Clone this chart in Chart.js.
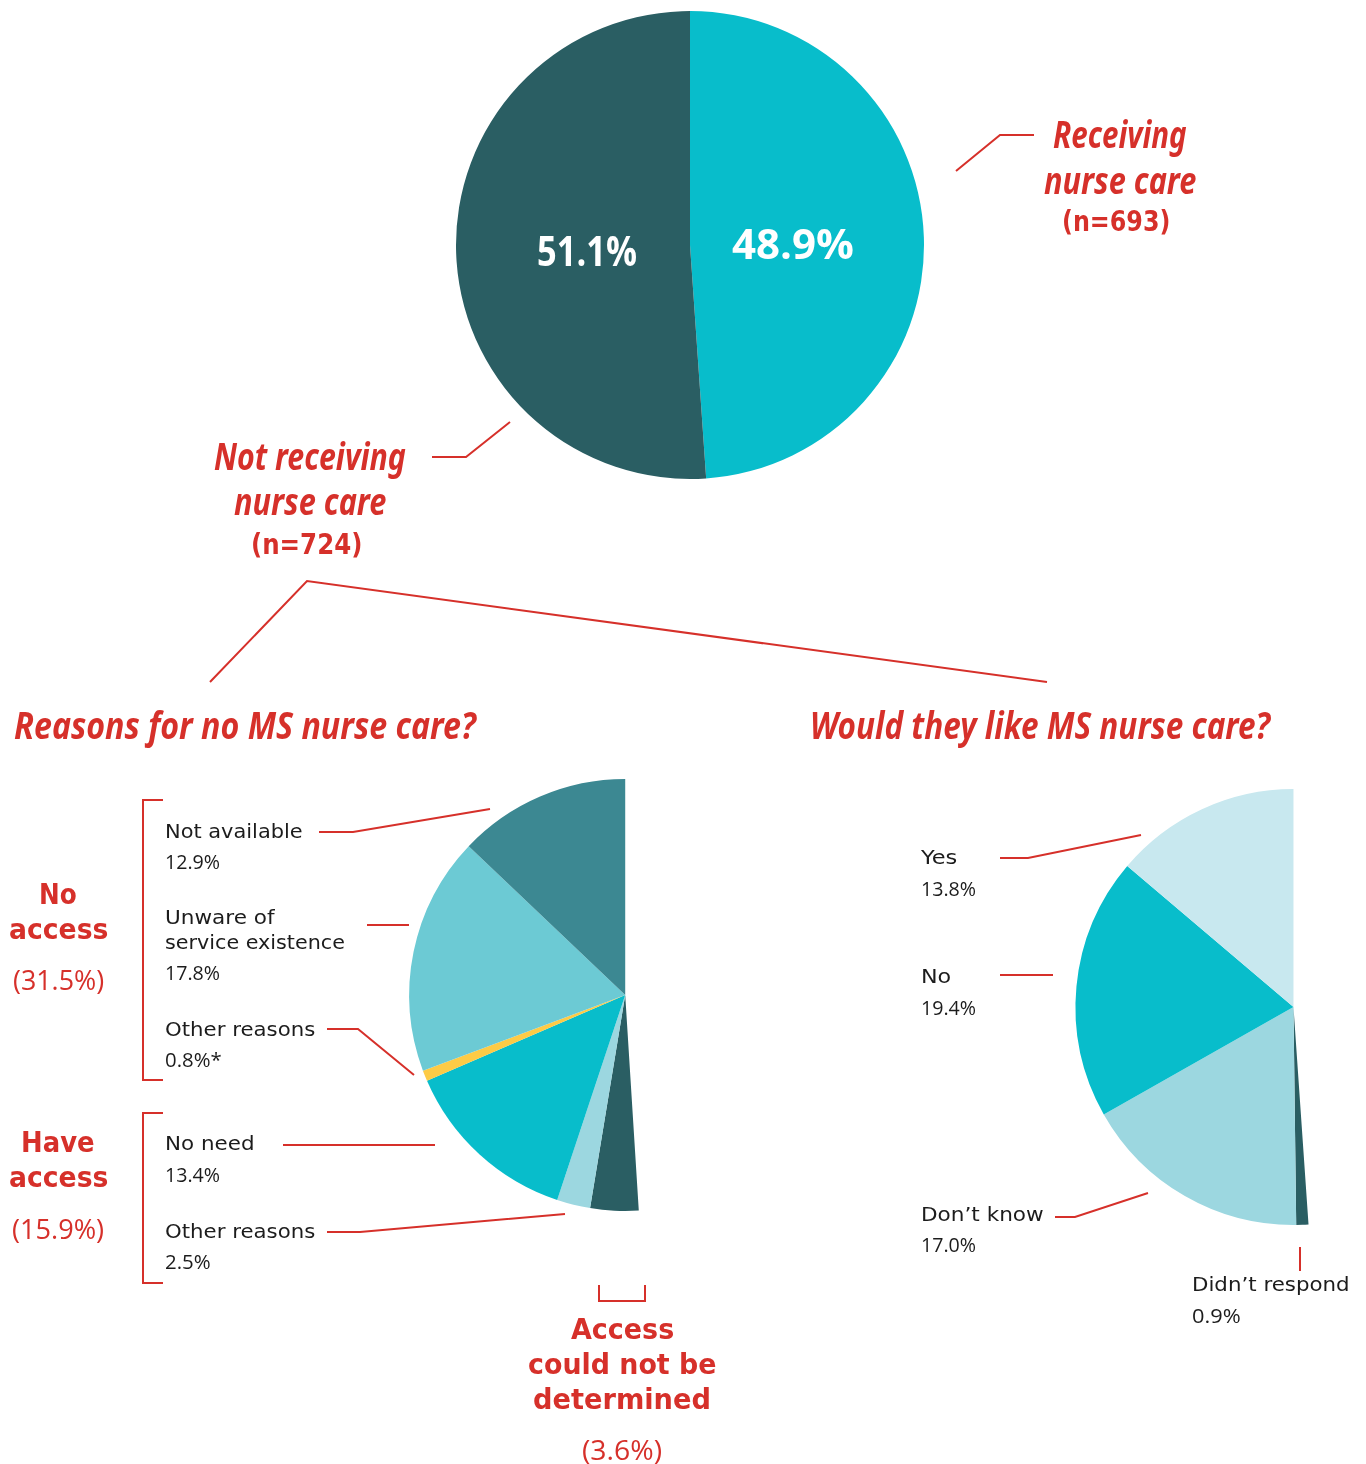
<!DOCTYPE html>
<html>
<head>
<meta charset="utf-8">
<script src="https://cdn.jsdelivr.net/npm/chart.js@4.4.1/dist/chart.umd.min.js"></script>
<style>
  html, body { margin: 0; padding: 0; background: #ffffff; }
  #stage { position: relative; width: 1366px; height: 1464px; overflow: hidden; }
  #stage canvas { position: absolute; }
  #leaders { position: absolute; left: 0; top: 0; }
  .t { position: absolute; white-space: nowrap; line-height: 1; color: #1c1c1c;
       font-family: 'DejaVu Sans', sans-serif; font-size: 20px; transform-origin: 0 50%; }
  .body { font-size: 20px; }
  .num { font-family: 'Open Sans', sans-serif; font-size: 20px; }
  .red { color: #d6302a; }
  .bold { font-weight: bold; }
  .script { font-family: 'Noto Sans', sans-serif; font-style: italic; font-weight: bold;
            color: #d6302a; font-size: 37px; }
  .big { font-size: 28px; }
  .share { font-family: 'Open Sans', sans-serif; font-size: 28px; font-weight: normal; color: #d6302a; }
</style>
</head>
<body>
<div id="stage">
  <canvas id="overview" width="480" height="480"></canvas>
  <canvas id="reasons" width="480" height="480"></canvas>
  <canvas id="wish" width="480" height="480"></canvas>
  <svg id="leaders" width="1366" height="1464"></svg>
</div>
<script>
// ---- data ----
const overviewLabels = ['Receiving nurse care', 'Not receiving nurse care'];
const overviewValues = [48.9, 51.1];
const overviewCounts = [693, 724];

const reasonLabels = ['Not available', 'Unware of service existence', 'Other reasons',
                      'No need', 'Other reasons', 'Access could not be determined'];
const reasonValues = [12.9, 17.8, 0.8, 13.4, 2.5, 3.6];

const wishLabels = ['Yes', 'No', 'Don’t know', 'Didn’t respond'];
const wishValues = [13.8, 19.4, 17.0, 0.9];

const accessGroups = ['No access', 'Have access', 'Access could not be determined'];
const accessShares = [31.5, 15.9, 3.6];

// ---- palette ----
const RED = '#d6302a';
const overviewColors = ['#08bdcb', '#2a5e63'];
const reasonColors = ['#3c8892', '#6ccad4', '#fdcb46', '#08bdcb', '#9cd7e0', '#2a5e63'];
const wishColors = ['#c8e8ef', '#08bdcb', '#9cd7e0', '#2a5e63'];

const stage = document.getElementById('stage');
const pct = v => v.toFixed(1) + '%';

// white percentage text inside each slice of the overview pie
const sliceValueLabels = {
  id: 'sliceValueLabels',
  afterDatasetsDraw(chart, args, opts) {
    if (!opts.show) return;
    const ctx = chart.ctx;
    const meta = chart.getDatasetMeta(0);
    const values = chart.data.datasets[0].data;
    ctx.save();
    ctx.fillStyle = '#ffffff';
    ctx.textAlign = 'center';
    ctx.textBaseline = 'middle';
    ctx.font = 'bold 41px "Open Sans", sans-serif';
    meta.data.forEach((arc, i) => {
      const p = arc.getProps(['x', 'y', 'startAngle', 'endAngle', 'outerRadius'], true);
      const mid = (p.startAngle + p.endAngle) / 2;
      const r = p.outerRadius * 0.44;
      const text = pct(values[i]);
      const w = ctx.measureText(text).width;
      const cx = p.x + Math.cos(mid) * r;
      const cy = p.y + Math.sin(mid) * r;
      ctx.save();
      ctx.translate(cx, cy);
      ctx.scale(opts.widths[i] / w, 1);
      ctx.fillText(text, 0, 6);
      ctx.restore();
    });
    ctx.restore();
  }
};

// Builds one pie. Half pies run counter-clockwise from 12 o'clock, so their
// data is reversed and the start is rotated back by the covered sweep.
function makePie(id, values, colors, radius, center, ccw, labelOpts) {
  const canvas = document.getElementById(id);
  const total = values.reduce((a, b) => a + b, 0);
  const data = ccw ? values.slice().reverse() : values.slice();
  const bg = ccw ? colors.slice().reverse() : colors.slice();
  const sweep = ccw ? total / 100 * 360 : 360;
  const chart = new Chart(canvas, {
    type: 'pie',
    data: { datasets: [{ data, backgroundColor: bg, borderWidth: 0, hoverOffset: 0 }] },
    options: {
      responsive: false,
      devicePixelRatio: 1,
      animation: false,
      radius: radius,
      rotation: ccw ? -sweep : 0,
      circumference: sweep,
      layout: { padding: 0 },
      events: [],
      plugins: {
        legend: { display: false },
        tooltip: { enabled: false },
        sliceValueLabels: labelOpts || { show: false }
      }
    },
    plugins: [sliceValueLabels]
  });
  // place the canvas so the pie's centre lands where the layout wants it
  const arc = chart.getDatasetMeta(0).data[0];
  canvas.style.left = (center[0] - arc.x) + 'px';
  canvas.style.top = (center[1] - arc.y) + 'px';
  return chart;
}

makePie('overview', overviewValues, overviewColors, 234, [689.5, 245], false,
        { show: true, widths: [122, 100] });
makePie('reasons', reasonValues, reasonColors, 216, [625, 995], true);
makePie('wish', wishValues, wishColors, 218, [1293.5, 1007], true);

// ---- leader lines and brackets ----
const leaders = [
  [[956, 171], [1000, 135], [1034, 135]],
  [[432, 457], [466, 457], [510, 422]],
  [[210, 682], [307, 581], [1047, 682]],
  [[319, 832], [353, 832], [490, 809]],
  [[367, 925], [409, 925]],
  [[327, 1029], [358, 1029], [414, 1075]],
  [[283, 1145], [435, 1145]],
  [[327, 1232], [360, 1232], [565, 1214]],
  [[599, 1285], [599, 1301], [645, 1301], [645, 1285]],
  [[1000, 858], [1028, 858], [1141, 835]],
  [[1000, 975], [1053, 975]],
  [[1055, 1217], [1075, 1217], [1148, 1193]],
  [[1300, 1247], [1300, 1271]],
  [[163, 800], [143, 800], [143, 1080], [163, 1080]],
  [[163, 1113], [143, 1113], [143, 1283], [163, 1283]]
];
const svg = document.getElementById('leaders');
leaders.forEach(pts => {
  const pl = document.createElementNS('http://www.w3.org/2000/svg', 'polyline');
  pl.setAttribute('points', pts.map(p => p.join(',')).join(' '));
  pl.setAttribute('fill', 'none');
  pl.setAttribute('stroke', RED);
  pl.setAttribute('stroke-width', '2');
  svg.appendChild(pl);
});

// ---- text ----
// x: left edge (or centre when align is 'center'), y: vertical centre of the line,
// fit: optional width the text is squeezed/stretched to.
function label(text, x, y, cls, align, fit) {
  const d = document.createElement('div');
  d.className = 't ' + (cls || 'body');
  d.textContent = text;
  stage.appendChild(d);
  const w = d.offsetWidth, h = d.offsetHeight;
  const sx = fit ? fit / w : 1;
  const drawn = w * sx;
  const left = align === 'center' ? x - drawn / 2 : x;
  d.style.left = left + 'px';
  d.style.top = (y - h / 2) + 'px';
  d.style.transform = 'scaleX(' + sx + ')';
  return d;
}

// overview callouts
label('Receiving', 1120, 133, 'script', 'center', 134);
label('nurse care', 1120, 179, 'script', 'center', 152);
label('(n=' + overviewCounts[0] + ')', 1116, 222, 'big red bold', 'center', 108);
label('Not receiving', 310, 455, 'script', 'center', 192);
label('nurse care', 310, 500, 'script', 'center', 152);
label('(n=' + overviewCounts[1] + ')', 306, 545, 'big red bold', 'center', 111);

// section titles
label('Reasons for no MS nurse care?', 14, 724, 'script', 'left', 462);
label('Would they like MS nurse care?', 810, 724, 'script', 'left', 460);

// reasons pie labels
label(reasonLabels[0], 165, 831, 'body', 'left', 138);
label(pct(reasonValues[0]), 165, 862, 'num', 'left', 55);
label('Unware of', 165, 917, 'body', 'left', 110);
label('service existence', 165, 942, 'body', 'left', 180);
label(pct(reasonValues[1]), 165, 973, 'num', 'left', 55);
label(reasonLabels[2], 165, 1029, 'body', 'left', 150);
label(pct(reasonValues[2]) + '*', 165, 1060, 'num', 'left', 57);
label(reasonLabels[3], 165, 1143, 'body', 'left', 90);
label(pct(reasonValues[3]), 165, 1175, 'num', 'left', 55);
label(reasonLabels[4], 165, 1231, 'body', 'left', 150);
label(pct(reasonValues[4]), 165, 1262, 'num', 'left', 46);

// access groups
label('No', 58, 895, 'big red bold', 'center', 38);
label('access', 58, 930, 'big red bold', 'center', 99);
label('(' + pct(accessShares[0]) + ')', 58, 979, 'share', 'center', 91);
label('Have', 58, 1143, 'big red bold', 'center', 74);
label('access', 58, 1178, 'big red bold', 'center', 99);
label('(' + pct(accessShares[1]) + ')', 58, 1228, 'share', 'center', 92);
label('Access', 622, 1330, 'big red bold', 'center', 103);
label('could not be', 622, 1365, 'big red bold', 'center', 189);
label('determined', 622, 1400, 'big red bold', 'center', 178);
label('(' + pct(accessShares[2]) + ')', 622, 1449, 'share', 'center', 80);

// wish pie labels
label(wishLabels[0], 921, 857, 'body', 'left', 36);
label(pct(wishValues[0]), 921, 889, 'num', 'left', 55);
label(wishLabels[1], 921, 976, 'body', 'left', 30);
label(pct(wishValues[1]), 921, 1008, 'num', 'left', 55);
label(wishLabels[2], 921, 1214, 'body', 'left', 123);
label(pct(wishValues[2]), 921, 1245, 'num', 'left', 55);
label(wishLabels[3], 1192, 1284, 'body', 'left', 158);
label(pct(wishValues[3]), 1192, 1316, 'num', 'left', 49);
</script>
</body>
</html>
